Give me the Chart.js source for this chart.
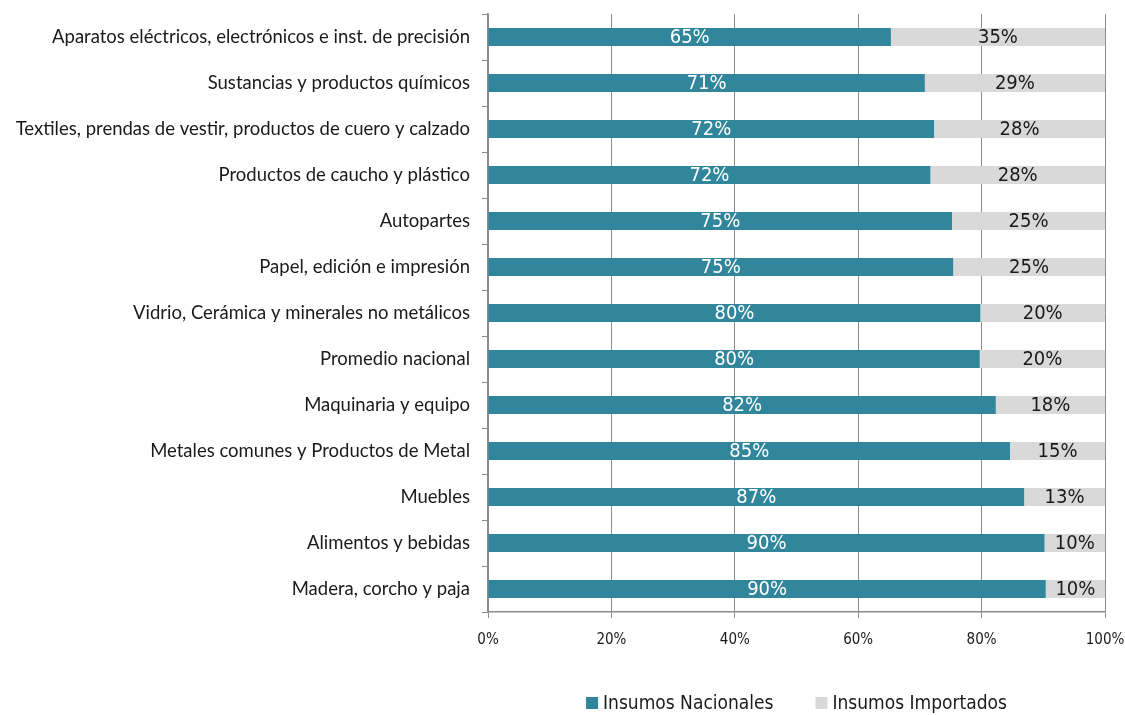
<!DOCTYPE html>
<html lang="es">
<head>
<meta charset="utf-8">
<title>Insumos nacionales e importados por sector</title>
<script src="https://cdn.jsdelivr.net/npm/chart.js@4.4.1/dist/chart.umd.min.js"></script>
<style>
  html, body { margin: 0; padding: 0; background: #ffffff; }
  #wrap { position: relative; width: 1125px; height: 715px; }
</style>
</head>
<body>
<div id="wrap"><canvas id="chart"></canvas></div>
<script>
// Sectors, top to bottom
const sectors = [
  'Aparatos eléctricos, electrónicos e inst. de precisión',
  'Sustancias y productos químicos',
  'Textiles, prendas de vestir, productos de cuero y calzado',
  'Productos de caucho y plástico',
  'Autopartes',
  'Papel, edición e impresión',
  'Vidrio, Cerámica y minerales no metálicos',
  'Promedio nacional',
  'Maquinaria y equipo',
  'Metales comunes y Productos de Metal',
  'Muebles',
  'Alimentos y bebidas',
  'Madera, corcho y paja'
];

// Share of inputs (%) by origin
const insumosNacionales = [65.3, 70.8, 72.3, 71.7, 75.2, 75.4, 79.8, 79.7, 82.3, 84.6, 86.9, 90.2, 90.4];
const insumosImportados = [34.7, 29.2, 27.7, 28.3, 24.8, 24.6, 20.2, 20.3, 17.7, 15.4, 13.1, 9.8, 9.6];

const seriesNames = ['Insumos Nacionales', 'Insumos Importados'];
const seriesColors = ['#31869b', '#d9d9d9'];
const xTicks = [0, 20, 40, 60, 80, 100];

const NARROW = '"DejaVu Sans Condensed", "DejaVu Sans", sans-serif';
const LABEL_FONT = 'Lato, "Open Sans", sans-serif';
const AXIS_GRAY = '#8c8c8c';
const TEXT = '#1a1a1a';

// Percentage written at the centre of every bar segment
const segmentLabels = {
  id: 'segmentLabels',
  afterDatasetsDraw(chart) {
    const ctx = chart.ctx;
    ctx.save();
    ctx.font = '20px ' + NARROW;
    ctx.textAlign = 'center';
    ctx.textBaseline = 'middle';
    chart.data.datasets.forEach((ds, i) => {
      const meta = chart.getDatasetMeta(i);
      ctx.fillStyle = i === 0 ? '#ffffff' : TEXT;
      meta.data.forEach((bar, j) => {
        const v = ds.data[j];
        const cx = (bar.x + bar.base) / 2;
        ctx.fillText(Math.round(v) + '%', cx, bar.y + 1);
      });
    });
    ctx.restore();
  }
};

// Legend under the plot, centred on the plot area
const bottomLegend = {
  id: 'bottomLegend',
  afterDraw(chart) {
    const ctx = chart.ctx;
    const area = chart.chartArea;
    const box = 12, textGap = 5, itemGap = 42;
    ctx.save();
    ctx.font = '19px ' + NARROW;
    ctx.textBaseline = 'middle';
    const widths = seriesNames.map(n => box + textGap + ctx.measureText(n).width);
    const total = widths.reduce((a, b) => a + b, 0) + itemGap * (widths.length - 1);
    let x = (area.left + area.right) / 2 - total / 2;
    const y = area.bottom + 91;
    seriesNames.forEach((name, i) => {
      ctx.fillStyle = seriesColors[i];
      ctx.fillRect(x, y - box / 2, box, box);
      ctx.fillStyle = TEXT;
      ctx.textAlign = 'left';
      ctx.fillText(name, x + box + textGap, y + 1);
      x += widths[i] + itemGap;
    });
    ctx.restore();
  }
};

new Chart(document.getElementById('chart'), {
  type: 'bar',
  data: {
    labels: sectors,
    datasets: [
      {
        label: seriesNames[0],
        data: insumosNacionales,
        backgroundColor: seriesColors[0],
        borderWidth: 0,
        barPercentage: 0.39,
        categoryPercentage: 1
      },
      {
        label: seriesNames[1],
        data: insumosImportados,
        backgroundColor: seriesColors[1],
        borderWidth: 0,
        barPercentage: 0.39,
        categoryPercentage: 1
      }
    ]
  },
  options: {
    indexAxis: 'y',
    responsive: true,
    maintainAspectRatio: false,
    animation: false,
    layout: { padding: { top: 14, right: 20, left: 0, bottom: 0 } },
    scales: {
      x: {
        stacked: true,
        min: 0,
        max: 100,
        afterBuildTicks(scale) { scale.ticks = xTicks.map(v => ({ value: v })); },
        afterFit(scale) {
          scale.height = 103;
          scale.paddingLeft = 0;
          scale.paddingRight = 0;
        },
        grid: { color: AXIS_GRAY, lineWidth: 1, tickLength: 6, drawTicks: true },
        border: { color: AXIS_GRAY, width: 1.5 },
        ticks: {
          padding: 13,
          color: TEXT,
          font: { family: NARROW, size: 15 },
          callback: v => v + '%'
        }
      },
      y: {
        stacked: true,
        afterFit(scale) {
          scale.width = 488;
          scale.paddingTop = 0;
          scale.paddingBottom = 0;
        },
        grid: { drawOnChartArea: false, color: AXIS_GRAY, tickLength: 6, offset: true },
        border: { color: AXIS_GRAY, width: 1.5 },
        ticks: {
          padding: 12,
          color: TEXT,
          font: { family: LABEL_FONT, size: 18.5 }
        }
      }
    },
    plugins: {
      legend: { display: false },
      tooltip: { enabled: false }
    }
  },
  plugins: [segmentLabels, bottomLegend]
});
</script>
</body>
</html>
